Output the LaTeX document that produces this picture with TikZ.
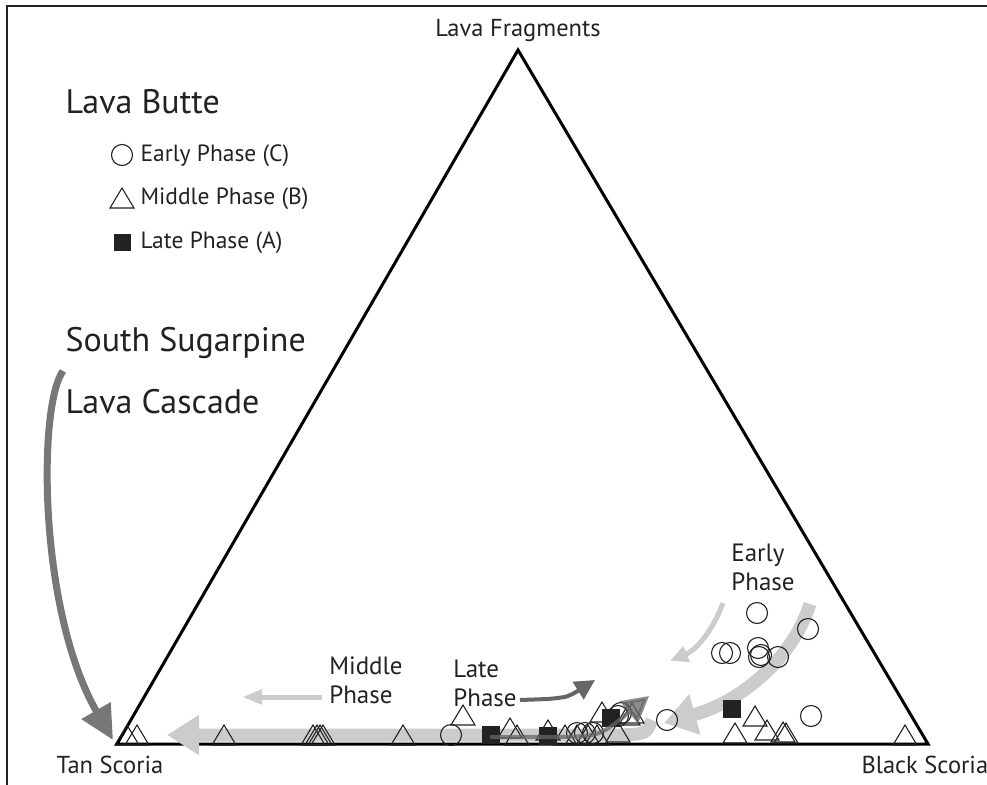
\documentclass[tikz,border=0pt]{standalone}
\usepackage{fontspec}
\setmainfont{PT Sans}
\usetikzlibrary{arrows.meta}
\definecolor{ink}{HTML}{222222}
\definecolor{darkarrow}{HTML}{666666}
\definecolor{cascade}{HTML}{777777}
\definecolor{lightarrow}{HTML}{CCCCCC}
\begin{document}
\begin{tikzpicture}[x=1pt,y=-1pt,
  mk/.style={draw=ink,line width=1.1pt},
  sq/.style={fill=ink,draw=ink},
  title/.style={anchor=west,text=ink,font=\fontsize{34}{34}\selectfont},
  legtext/.style={anchor=west,text=ink,font=\fontsize{23.5}{23.5}\selectfont},
  corner/.style={text=ink,font=\fontsize{24.5}{24.5}\selectfont},
  phase/.style={text=ink,align=left,font=\fontsize{25}{29}\selectfont}]
\useasboundingbox (0,0) rectangle (987,784);
%\draw[gray,very thin] (0,0) grid[step=50] (987,784);
\draw[line width=2pt,ink] (7,790) -- (7,6) -- (995,6);

% triangle
\coordinate (lf) at (518,50);
\coordinate (ts) at (117,744);
\coordinate (bs) at (928,744);
\draw[line width=3pt,line join=miter] (lf) -- (bs) -- (ts) -- cycle;
\node[corner,anchor=south] (lftext) at (518,45) {Lava Fragments};
\node[corner,anchor=north west] (tstext) at (53,753) {Tan Scoria};
\node[corner,anchor=north west] (bstext) at (858,753) {Black Scoria};

% legend
\node[title] (butte) at (62,102) {Lava Butte};
\draw[mk] (122,155) circle[radius=10.5];
\node[legtext] (early) at (137,156) {Early Phase (C)};
\draw[mk] (110,208) -- (122,188) -- (134,208) -- cycle;
\node[legtext] (middle) at (137,199) {Middle Phase (B)};
\fill[ink] (113.5,234) rectangle (130.5,251);
\node[legtext] (late) at (137,243) {Late Phase (A)};
\node[title] (sugar) at (62,343) {South Sugarpine};
\node[title] (cascade) at (62,402) {Lava Cascade};

% light gray trends
\draw[lightarrow,line width=13pt,-{Triangle[length=32pt,width=38pt]}]
  (652,720) .. controls (646,734) .. (620,735) -- (167,735);
\draw[lightarrow,line width=13pt,-{Triangle[length=32pt,width=40pt]}]
  (810,604) .. controls (792,660) and (740,702) .. (664,723);
\draw[lightarrow,line width=5pt,-{Triangle[length=18pt,width=16pt]}]
  (723,603) .. controls (712,632) and (696,650) .. (670,661);
\draw[lightarrow,line width=5pt,-{Triangle[length=20pt,width=14pt]}]
  (322,697) -- (242,697);
\node[phase] (midph) at (366,680) {Middle\\Phase};
\node[phase] (lateph) at (485,683) {Late\\Phase};
\node[phase] (earlyph) at (763,567) {Early\\Phase};

% data
\foreach \x/\y in {757/613,808/629,722/653,730/653,758/648,759/657,761/655,
  778/657,667/720,811/716,451/735,577/733,585/733,593/733,621/713,618/716}
  \draw[mk] (\x,\y) circle[radius=10.5];
\foreach \x/\y in {127/735,137/735,224/735,313/735,317/735,320/735,323/735,
  403/735,463/715,510/728,517/735,548/730,565/735,577/735,588/735,597/735,
  602/712,618/732,628/715,632/713,735/733,755/716,767/730,783/732,786/733,
  905/735}
  \draw[mk] ({\x-12},{\y+10}) -- (\x,{\y-10}) -- ({\x+12},{\y+10}) -- cycle;
\foreach \x/\y in {491/735,548/736,611/718,732/709}
  \fill[ink] ({\x-9},{\y-9}) rectangle ({\x+9},{\y+9});

% dark gray trends
\draw[darkarrow,line width=4pt,-{Triangle[length=20pt,width=20pt]}]
  (520,700) -- (548,699) .. controls (568,697) .. (595,680);
\draw[darkarrow,opacity=0.75,line width=4pt,-{Triangle[length=26pt,width=28pt]}]
  (490,737) -- (560,737) .. controls (600,736) .. (649,696);
\draw[cascade,line width=7pt,-{Triangle[length=34pt,width=32pt]}]
  (63,371) .. controls (38,405) and (38,610) .. (113,740);
\end{tikzpicture}
\end{document}
